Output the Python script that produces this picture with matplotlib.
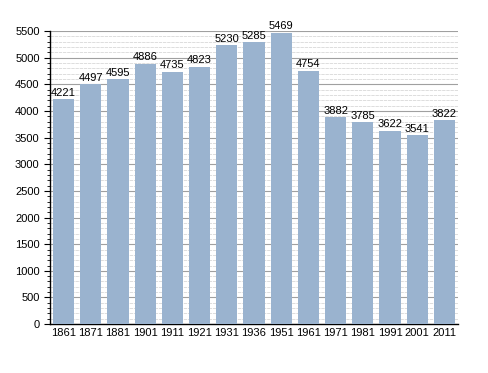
import matplotlib.pyplot as plt
import numpy as np

years = ['1861', '1871', '1881', '1901', '1911', '1921', '1931', '1936',
         '1951', '1961', '1971', '1981', '1991', '2001', '2011']
population = [4221, 4497, 4595, 4886, 4735, 4823, 5230, 5285,
              5469, 4754, 3882, 3785, 3622, 3541, 3822]

plt.rcParams['font.family'] = ['Liberation Sans', 'DejaVu Sans']

fig = plt.figure(figsize=(4.88, 3.73), dpi=100)
ax = fig.add_axes([0.1025, 0.131, 0.836, 0.786])

x = np.arange(len(years))
ax.bar(x, population, width=0.78, color='#9ab3cf', zorder=3)
for xi, v in zip(x, population):
    ax.text(xi, v + 30, str(v), ha='center', va='bottom', fontsize=8, zorder=4)

ax.set_xlim(-0.5, len(years) - 0.5)
ax.set_ylim(0, 5500)
ax.set_xticks(x)
ax.set_xticklabels(years, fontsize=8)
ax.set_yticks(np.arange(0, 5501, 500))
ax.set_yticks(np.arange(0, 5501, 100), minor=True)
ax.tick_params(axis='y', labelsize=8, length=4, width=0.8)
ax.tick_params(axis='y', which='minor', length=2, width=0.6)
ax.tick_params(axis='x', length=0, pad=3)

# major grid solid, minor grid light dashed
ax.grid(axis='y', which='major', color='#a0a0a0', linewidth=0.8, zorder=0)
ax.grid(axis='y', which='minor', color='#d8d8d8', linewidth=0.6,
        linestyle=(0, (4, 1)), zorder=0)

for s in ['top', 'right']:
    ax.spines[s].set_visible(False)
ax.spines['left'].set_linewidth(1.0)
ax.spines['bottom'].set_linewidth(1.0)

fig.savefig('out.png', dpi=100)
